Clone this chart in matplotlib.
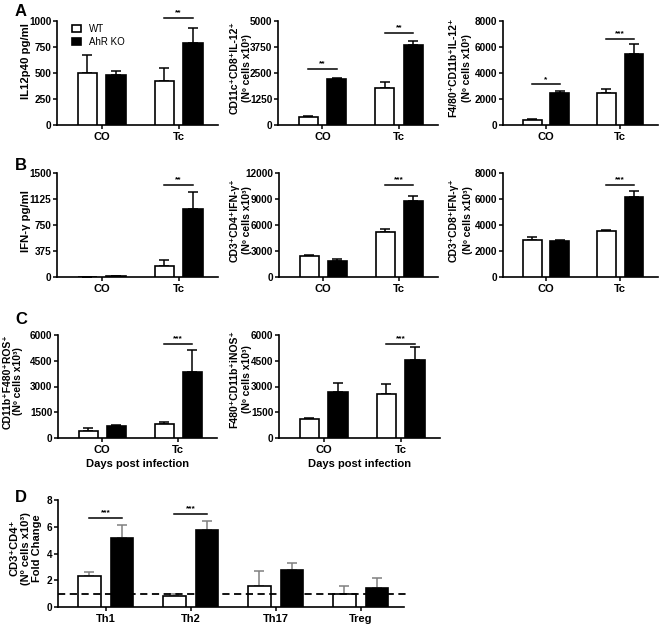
import matplotlib
matplotlib.use("Agg")
import matplotlib.pyplot as plt
from matplotlib.patches import Patch
import numpy as np

plt.rcParams['font.family'] = ['Liberation Sans', 'DejaVu Sans']

groups = ["CO", "Tc"]
th_groups = ["Th1", "Th2", "Th17", "Treg"]

# panel A
il12_wt = [500, 420]
il12_wt_err = [170, 130]
il12_ko = [485, 785]
il12_ko_err = [35, 145]

cd11c_wt = [400, 1780]
cd11c_wt_err = [40, 300]
cd11c_ko = [2230, 3830]
cd11c_ko_err = [15, 200]

f480il12_wt = [400, 2480]
f480il12_wt_err = [80, 300]
f480il12_ko = [2450, 5450]
f480il12_ko_err = [200, 750]

# panel B
ifn_wt = [0, 165]
ifn_wt_err = [0, 85]
ifn_ko = [8, 975]
ifn_ko_err = [0, 245]

cd4ifn_wt = [2480, 5250]
cd4ifn_wt_err = [100, 330]
cd4ifn_ko = [1880, 8800]
cd4ifn_ko_err = [200, 500]

cd8ifn_wt = [2880, 3530]
cd8ifn_wt_err = [200, 100]
cd8ifn_ko = [2780, 6170]
cd8ifn_ko_err = [50, 450]

# panel C
ros_wt = [420, 800]
ros_wt_err = [180, 130]
ros_ko = [680, 3870]
ros_ko_err = [60, 1270]

inos_wt = [1100, 2570]
inos_wt_err = [50, 600]
inos_ko = [2700, 4570]
inos_ko_err = [530, 720]

# panel D
th_wt = [2.3, 0.85, 1.6, 0.95]
th_wt_err = [0.3, 0.1, 1.1, 0.6]
th_ko = [5.15, 5.75, 2.75, 1.45]
th_ko_err = [0.95, 0.7, 0.55, 0.75]

W, H = 660, 624
fig = plt.figure(figsize=(W / 100, H / 100), dpi=100)


def make_ax(l, r, t, b):
    return fig.add_axes([l / W, 1 - b / H, (r - l) / W, (b - t) / H])


def bars(ax, cats, wt, wt_err, ko, ko_err, ymax, yticks, ylabel, sigs,
         lab_dx, lab_y=0.55, lab_fs=7.5, lab_ls=1.3,
         width=0.25, off=0.185, xlim=(-0.58, 1.51), err_color='black'):
    x = np.arange(len(cats))
    ax.bar(x - off, wt, width, color='white', edgecolor='black', linewidth=1.2, zorder=3)
    ax.bar(x + off, ko, width, color='black', edgecolor='black', linewidth=1.2, zorder=3)
    zeros = [0] * len(cats)
    ax.errorbar(x - off, wt, yerr=[zeros, wt_err], fmt='none', ecolor=err_color,
                elinewidth=1.1, capsize=3.3, capthick=1.1, zorder=2)
    ax.errorbar(x + off, ko, yerr=[zeros, ko_err], fmt='none', ecolor=err_color,
                elinewidth=1.1, capsize=3.3, capthick=1.1, zorder=2)
    ax.set_xlim(*xlim)
    ax.set_ylim(0, ymax)
    ax.set_yticks(yticks)
    ax.set_yticklabels([str(v) for v in yticks], fontweight='bold', fontsize=7.2)
    ax.set_xticks(x)
    ax.set_xticklabels(cats, fontweight='bold', fontsize=8)
    ax.tick_params(axis='y', length=3, width=1.1, pad=1)
    ax.tick_params(axis='x', length=3, width=1.1, pad=2)
    for s in ['top', 'right']:
        ax.spines[s].set_visible(False)
    for s in ['left', 'bottom']:
        ax.spines[s].set_linewidth(1.2)
    ax.set_ylabel(ylabel, fontweight='bold', fontsize=lab_fs, linespacing=lab_ls)
    # right edge of the label, lab_dx pixels left of the y axis
    w_px = ax.get_position().width * W
    ax.yaxis.set_label_coords(-lab_dx / w_px, lab_y)
    for gi, yv, stars in sigs:
        ax.plot([gi - off, gi + off], [yv, yv], color='black', lw=1.1, clip_on=False)
        ax.text(gi, yv + ymax * 0.015, stars, ha='center', va='bottom', fontsize=6,
                fontweight='bold', clip_on=False)
    return ax


cells = "(Nº cells x10³)"

# row A
a1 = make_ax(57, 218, 21, 125)
bars(a1, groups, il12_wt, il12_wt_err, il12_ko, il12_ko_err, 1000,
     [0, 250, 500, 750, 1000], "IL12p40 pg/ml", [(1, 1030, "**")],
     lab_dx=26, lab_y=0.615, lab_fs=8.2)
a1.legend(handles=[Patch(facecolor='white', edgecolor='black', lw=1.2, label='WT'),
                   Patch(facecolor='black', edgecolor='black', lw=1.2, label='AhR KO')],
          loc='upper left', bbox_to_anchor=(0.055, 1.03), frameon=False, fontsize=7,
          handlelength=0.95, handleheight=0.65, handletextpad=0.8, labelspacing=0.35,
          borderaxespad=0.2)

a2 = make_ax(278, 438, 21, 125)
bars(a2, groups, cd11c_wt, cd11c_wt_err, cd11c_ko, cd11c_ko_err, 5000,
     [0, 1250, 2500, 3750, 5000],
     "CD11c⁺CD8⁺IL-12⁺\n" + cells, [(0, 2690, "**"), (1, 4410, "**")],
     lab_dx=26)

a3 = make_ax(503, 658, 21, 125)
bars(a3, groups, f480il12_wt, f480il12_wt_err, f480il12_ko, f480il12_ko_err, 8000,
     [0, 2000, 4000, 6000, 8000],
     "F4/80⁺CD11b⁺IL-12⁺\n" + cells, [(0, 3130, "*"), (1, 6615, "***")],
     lab_dx=31, lab_ls=1.5)

# row B
b1 = make_ax(57, 218, 173, 277)
bars(b1, groups, ifn_wt, ifn_wt_err, ifn_ko, ifn_ko_err, 1500,
     [0, 375, 750, 1125, 1500], "IFN-γ pg/ml", [(1, 1327, "**")],
     lab_dx=26, lab_y=0.54, lab_fs=8.2)

b2 = make_ax(279, 438, 173, 277)
bars(b2, groups, cd4ifn_wt, cd4ifn_wt_err, cd4ifn_ko, cd4ifn_ko_err, 12000,
     [0, 3000, 6000, 9000, 12000],
     "CD3⁺CD4⁺IFN-γ⁺\n" + cells, [(1, 10650, "***")],
     lab_dx=27)

b3 = make_ax(503, 658, 173, 277)
bars(b3, groups, cd8ifn_wt, cd8ifn_wt_err, cd8ifn_ko, cd8ifn_ko_err, 8000,
     [0, 2000, 4000, 6000, 8000],
     "CD3⁺CD8⁺IFN-γ⁺\n" + cells, [(1, 7100, "***")],
     lab_dx=30, lab_ls=1.5)

# row C
c1 = make_ax(58, 217, 335, 438)
bars(c1, groups, ros_wt, ros_wt_err, ros_ko, ros_ko_err, 6000,
     [0, 1500, 3000, 4500, 6000],
     "CD11b⁺F480⁺ROS⁺\n" + cells, [(1, 5477, "***")],
     lab_dx=35, lab_y=0.55, lab_ls=1.05)
c1.set_xlabel("Days post infection", fontweight='bold', fontsize=8, labelpad=3)

c2 = make_ax(279, 440, 335, 438)
bars(c2, groups, inos_wt, inos_wt_err, inos_ko, inos_ko_err, 6000,
     [0, 1500, 3000, 4500, 6000],
     "F480⁺CD11b⁺iNOS⁺\n" + cells, [(1, 5477, "***")],
     lab_dx=27, lab_y=0.57)
c2.set_xlabel("Days post infection", fontweight='bold', fontsize=8, labelpad=3)

# row D
d1 = make_ax(58, 404, 500, 607)
bars(d1, th_groups, th_wt, th_wt_err, th_ko, th_ko_err, 8,
     [0, 2, 4, 6, 8],
     "CD3⁺CD4⁺\n" + cells + "\nFold Change",
     [(0, 6.63, "***"), (1, 6.96, "***")],
     lab_dx=16, lab_y=0.55, lab_fs=8, lab_ls=1.15,
     width=0.26, off=0.19, xlim=(-0.56, 3.51), err_color='#808080')
d1.axhline(1, color='black', lw=1.3, ls=(0, (4, 2.5)), zorder=4, xmax=1.01, clip_on=False)

for lbl, yp in [("A", 11), ("B", 166), ("C", 320), ("D", 497)]:
    fig.text(15 / W, 1 - yp / H, lbl, fontsize=12, fontweight='bold', va='center', ha='left')

fig.savefig("out.png", dpi=100)
